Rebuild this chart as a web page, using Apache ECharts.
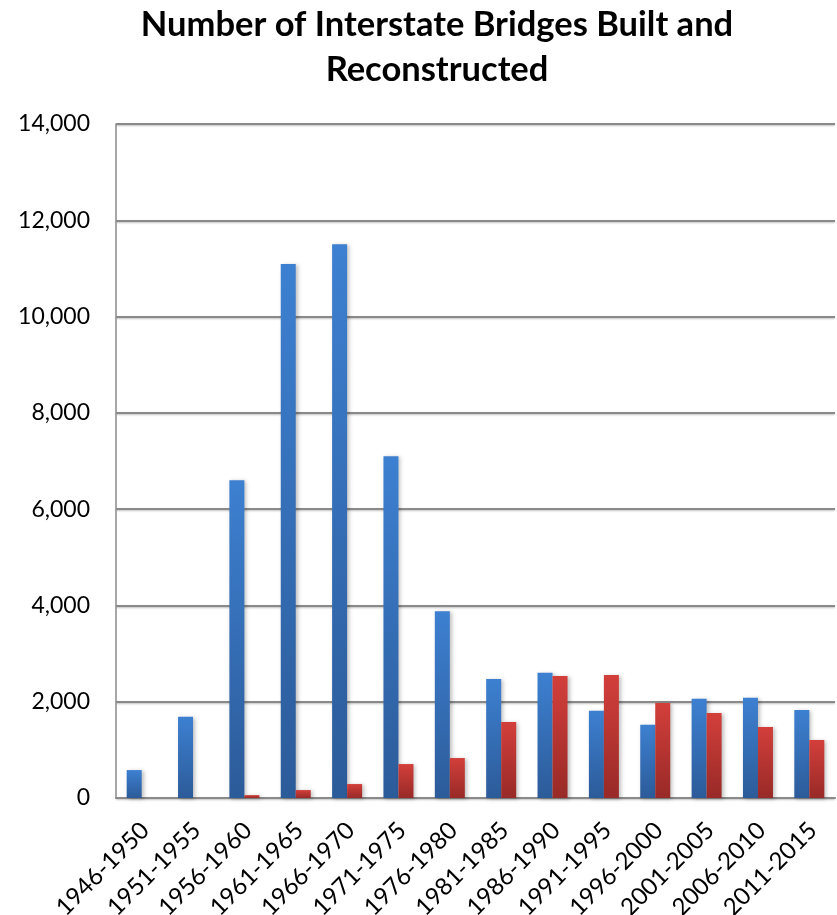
<!DOCTYPE html>
<html>
<head>
<meta charset="utf-8">
<script src="https://cdn.jsdelivr.net/npm/echarts@6/dist/echarts.min.js"></script>
<style>html,body{margin:0;padding:0;background:#fff;}#c{width:837px;height:915px;}</style>
</head>
<body>
<div id="c"></div>
<script>
var titleText = 'Number of Interstate Bridges Built and\nReconstructed';
var categories = ['1946-1950','1951-1955','1956-1960','1961-1965','1966-1970','1971-1975','1976-1980','1981-1985','1986-1990','1991-1995','1996-2000','2001-2005','2006-2010','2011-2015'];
var built = [580, 1690, 6600, 11090, 11500, 7100, 3880, 2470, 2600, 1810, 1520, 2060, 2080, 1830];
var reconstructed = [0, 0, 60, 165, 290, 705, 830, 1580, 2535, 2555, 1975, 1765, 1475, 1205];
var yTicks = {min: 0, max: 14000, interval: 2000};

function grad(top, bottom) {
  return new echarts.graphic.LinearGradient(0, 0, 0, 1, [
    {offset: 0, color: top}, {offset: 1, color: bottom}
  ]);
}
var chart = echarts.init(document.getElementById('c'), null, {renderer: 'canvas'});
chart.setOption({
  animation: false,
  backgroundColor: '#ffffff',
  title: {
    text: titleText,
    left: 432, top: -3, textAlign: 'center',
    textStyle: {fontFamily: 'Lato', fontWeight: 'bold', fontSize: 34.5, color: '#000', lineHeight: 45}
  },
  grid: {left: 116, right: 2, top: 124, bottom: 117, containLabel: false, outerBoundsMode: 'none'},
  xAxis: {
    type: 'category',
    data: categories,
    axisLine: {show: true, lineStyle: {color: '#8a8a8a', width: 2}},
    axisTick: {show: false},
    axisLabel: {
      rotate: 45, interval: 0, margin: 15,
      align: 'right', verticalAlign: 'top', padding: [0, 7, 0, 0],
      fontFamily: 'Lato', fontSize: 24, color: '#000'
    }
  },
  yAxis: {
    type: 'value',
    min: yTicks.min, max: yTicks.max, interval: yTicks.interval,
    axisLine: {show: true, lineStyle: {color: '#8a8a8a', width: 1.5}},
    axisTick: {show: false},
    splitLine: {show: true, lineStyle: {color: '#8a8a8a', width: 2, shadowColor: 'rgba(0,0,0,0.25)', shadowBlur: 2, shadowOffsetY: 1}},
    axisLabel: {
      margin: 26, fontFamily: 'Lato', fontSize: 23, color: '#000',
      formatter: function (v) { return v.toLocaleString('en-US'); }
    }
  },
  series: [
    {
      name: 'Built', type: 'bar', data: built,
      barWidth: 15, barGap: '0%',
      itemStyle: {color: grad('#3d80d1', '#2c5b99'), shadowColor: 'rgba(0,0,0,0.25)', shadowBlur: 4, shadowOffsetX: 2, shadowOffsetY: 1}
    },
    {
      name: 'Reconstructed', type: 'bar', data: reconstructed,
      barWidth: 15, barGap: '0%',
      itemStyle: {color: grad('#d33f3b', '#982a27'), shadowColor: 'rgba(0,0,0,0.25)', shadowBlur: 4, shadowOffsetX: 2, shadowOffsetY: 1}
    }
  ]
});
</script>
</body>
</html>
